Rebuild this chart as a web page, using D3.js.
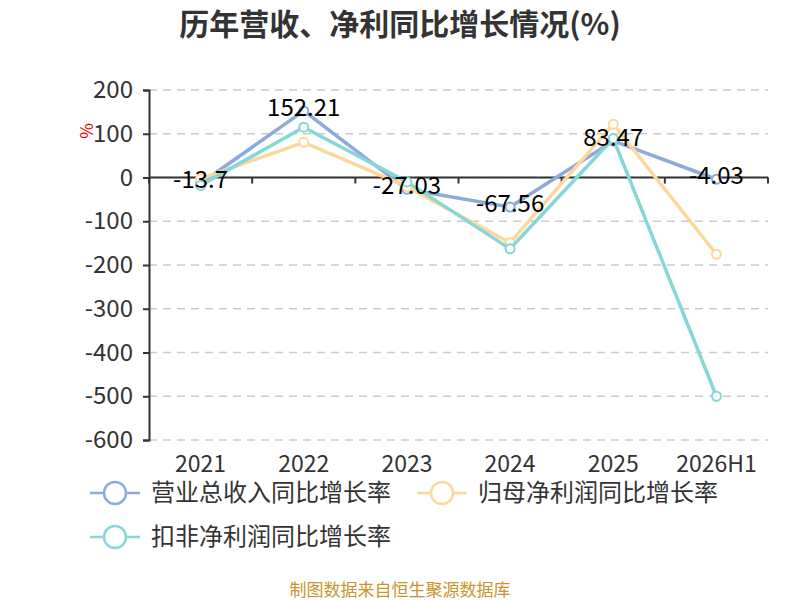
<!DOCTYPE html>
<html>
<head>
<meta charset="utf-8">
<script src="https://cdn.jsdelivr.net/npm/d3@7"></script>
<style>
	body { margin: 0; background: #fff; }
	text { font-family: "Noto Sans CJK SC", "Noto Sans", sans-serif; }
</style>
</head>
<body>
<div id="chart"></div>
<script>
// data
var categories = ["2021", "2022", "2023", "2024", "2025", "2026H1"];
var revenueGrowth = [-13.7, 152.21, -27.03, -67.56, 83.47, -4.03];
var netProfitGrowth = [-3, 80.5, -21, -149, 122, -175.5];
var deductedProfitGrowth = [-18, 115, -10, -163, 89, -500];
var seriesNames = ["营业总收入同比增长率", "归母净利润同比增长率", "扣非净利润同比增长率"];
var yTicks = [200, 100, 0, -100, -200, -300, -400, -500, -600];

var width = 800, height = 600;
var colors = ["#8eaadc", "#fdd89a", "#86d7d8"];

var svg = d3.select("#chart")
	.append("svg")
	.attr("width", width)
	.attr("height", height);

// scales
var x = d3.scaleBand().domain(categories).range([149, 768]);
var y = d3.scaleLinear().domain([-600, 200]).range([440, 90]);

// title
svg.append("text")
	.attr("x", 400)
	.attr("y", 35)
	.attr("text-anchor", "middle")
	.style("font-size", "30px")
	.style("font-weight", "bold")
	.style("fill", "#333")
	.text("历年营收、净利同比增长情况(%)");

// grid
svg.append("g")
	.selectAll("line")
	.data(yTicks)
	.enter()
	.append("line")
	.attr("x1", 149)
	.attr("x2", 768)
	.attr("y1", d => y(d))
	.attr("y2", d => y(d))
	.style("stroke", "#ccc")
	.style("stroke-width", 1.5)
	.style("stroke-dasharray", "8,6");

// y axis
var yAxis = svg.append("g")
	.attr("transform", "translate(149,0)")
	.call(d3.axisLeft(y).tickValues(yTicks).tickFormat(d => String(d)).tickSize(6).tickPadding(10));
yAxis.select(".domain").style("stroke", "#333").style("stroke-width", 2);
yAxis.selectAll(".tick line").style("stroke", "#333").style("stroke-width", 2);
yAxis.selectAll(".tick text")
	.style("font-size", "24px")
	.style("fill", "#333")
	.style("font-family", "'Noto Sans CJK SC', 'Noto Sans', sans-serif");

// x axis on zero line, ticks between categories
var bounds = categories.map(c => x(c)).concat([x.range()[1]]);
var zeroAxis = svg.append("g");
zeroAxis.append("line")
	.attr("x1", 149)
	.attr("x2", 768)
	.attr("y1", y(0))
	.attr("y2", y(0))
	.style("stroke", "#333")
	.style("stroke-width", 2);
zeroAxis.selectAll(".xtick")
	.data(bounds)
	.enter()
	.append("line")
	.attr("class", "xtick")
	.attr("x1", d => d)
	.attr("x2", d => d)
	.attr("y1", y(0))
	.attr("y2", y(0) + 6)
	.style("stroke", "#333")
	.style("stroke-width", 2);

svg.append("g")
	.selectAll("text")
	.data(categories)
	.enter()
	.append("text")
	.attr("x", d => x(d) + x.bandwidth() / 2)
	.attr("y", 472)
	.attr("text-anchor", "middle")
	.style("font-size", "23px")
	.style("fill", "#333")
	.text(d => d);

// unit
svg.append("text")
	.attr("transform", "translate(93,131) rotate(-90)")
	.attr("text-anchor", "middle")
	.style("font-size", "17px")
	.style("fill", "#e00")
	.text("%");

// series
var allSeries = [revenueGrowth, netProfitGrowth, deductedProfitGrowth];
var line = d3.line()
	.x((d, i) => x(categories[i]) + x.bandwidth() / 2)
	.y(d => y(d));

allSeries.forEach(function(values, k) {
	var g = svg.append("g");
	g.append("path")
		.datum(values)
		.attr("d", line)
		.style("fill", "none")
		.style("stroke", colors[k])
		.style("stroke-width", 3.5)
		.style("stroke-linejoin", "round");
	g.selectAll("circle")
		.data(values)
		.enter()
		.append("circle")
		.attr("cx", (d, i) => x(categories[i]) + x.bandwidth() / 2)
		.attr("cy", d => y(d))
		.attr("r", 4.5)
		.style("fill", "#fff")
		.style("stroke", colors[k])
		.style("stroke-width", 2);
});

// labels for revenue series
svg.append("g")
	.selectAll("text")
	.data(revenueGrowth)
	.enter()
	.append("text")
	.attr("x", (d, i) => x(categories[i]) + x.bandwidth() / 2)
	.attr("y", d => y(d) + 5)
	.attr("text-anchor", "middle")
	.style("font-size", "24px")
	.style("fill", "#000")
	.text(d => d);

// legend
var legendPos = [[90, 493], [417, 493], [90, 537]];
var legend = svg.append("g")
	.selectAll("g")
	.data(seriesNames)
	.enter()
	.append("g")
	.attr("transform", (d, i) => "translate(" + legendPos[i][0] + "," + legendPos[i][1] + ")");
legend.append("line")
	.attr("x1", 0)
	.attr("x2", 50)
	.style("stroke", (d, i) => colors[i])
	.style("stroke-width", 2.5);
legend.append("circle")
	.attr("cx", 25)
	.attr("r", 11)
	.style("fill", "#fff")
	.style("stroke", (d, i) => colors[i])
	.style("stroke-width", 2.5);
legend.append("text")
	.attr("x", 61)
	.attr("y", 8)
	.style("font-size", "24px")
	.style("fill", "#333")
	.text(d => d);

// footer
svg.append("text")
	.attr("x", 400)
	.attr("y", 596)
	.attr("text-anchor", "middle")
	.style("font-size", "17px")
	.style("fill", "#c8952c")
	.text("制图数据来自恒生聚源数据库");
</script>
</body>
</html>
